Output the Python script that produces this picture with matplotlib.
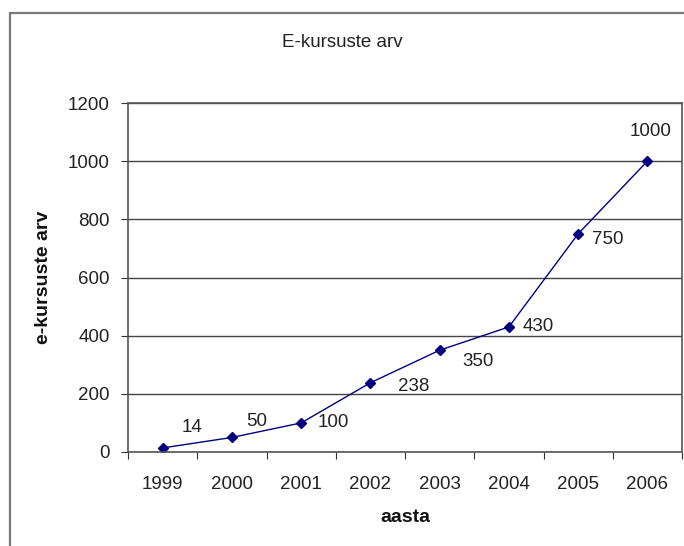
import matplotlib.pyplot as plt
from matplotlib.patches import Rectangle

plt.rcParams['font.family'] = ['Liberation Sans', 'DejaVu Sans']

years = ['1999', '2000', '2001', '2002', '2003', '2004', '2005', '2006']
courses = [14, 50, 100, 238, 350, 430, 750, 1000]
y_ticks = [0, 200, 400, 600, 800, 1000, 1200]

# label offsets in points (left edge of label text relative to the point)
label_offsets = [(13.5, 15), (10.5, 11.5), (12, 0), (20, -3),
                 (16, -8), (10, 0), (10, -4), (-13, 21.5)]

fig = plt.figure(figsize=(6.84, 5.46), dpi=100)
fig.patches.append(Rectangle((10 / 684, -0.1), 1.2, 1 - 13 / 546 + 0.1,
                             transform=fig.transFigure, fill=False,
                             edgecolor='#7a7a7a', lw=1.6))

ax = fig.add_axes([128 / 684, 94 / 546, 554 / 684, 349 / 546])
x = list(range(len(years)))
ax.plot(x, courses, color='#000080', lw=1, marker='D', markersize=5.5)

for xi, val, off in zip(x, courses, label_offsets):
    ax.annotate(str(val), (xi, val), xytext=off, textcoords='offset points',
                ha='left', va='center', fontsize=13.5, color='#222222')

ax.set_xlim(-0.5, len(years) - 0.5)
ax.set_ylim(0, 1200)
ax.set_yticks(y_ticks)
ax.grid(axis='y', color='#444444', lw=1)
ax.set_axisbelow(True)

ax.set_xticks([i + 0.5 for i in range(-1, len(years))])
ax.set_xticklabels([])
ax.set_xticks(x, minor=True)
ax.set_xticklabels(years, minor=True)
ax.tick_params(axis='x', which='major', length=5, direction='out', color='#333333')
ax.tick_params(axis='x', which='minor', length=0, pad=17, labelsize=13.5, labelcolor='#222222')
ax.tick_params(axis='y', length=5, direction='out', pad=8, labelsize=13.5,
               labelcolor='#222222', color='#333333')

for s in ax.spines.values():
    s.set_color('#555555')
    s.set_linewidth(1.2)

ax.text(0.5, -0.189, 'aasta', transform=ax.transAxes, ha='center', va='center',
        fontsize=14, fontweight='bold', color='#111111')
ax.text(-0.153, 0.5, 'e-kursuste arv', transform=ax.transAxes, ha='center',
        va='center', rotation=90, fontsize=14, fontweight='bold', color='#111111')
fig.text(342 / 684, 1 - 43 / 546, 'E-kursuste arv', ha='center', va='center',
         fontsize=13.5, color='#222222')

fig.savefig('out.png', dpi=100)
